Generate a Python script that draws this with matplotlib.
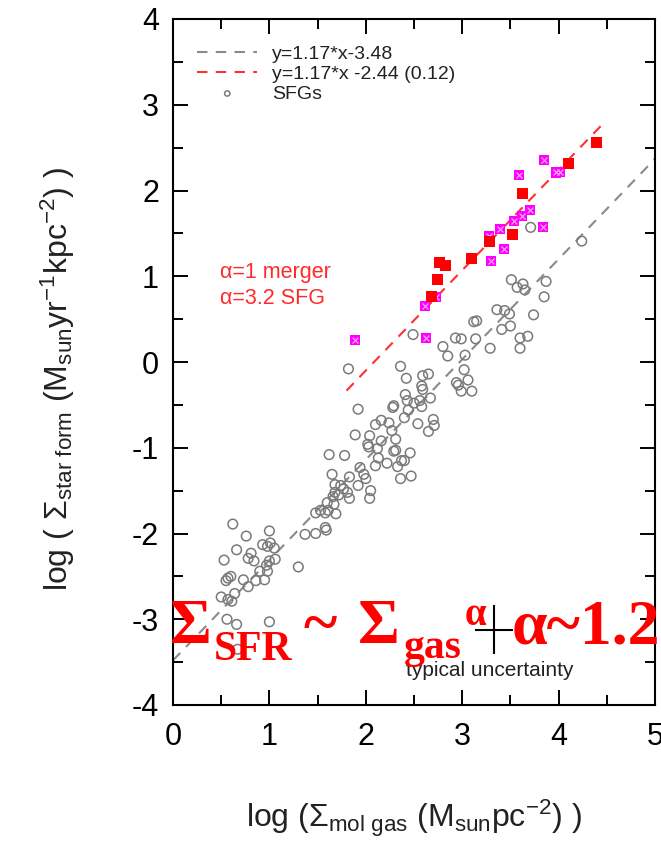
import matplotlib
matplotlib.use('Agg')
import matplotlib.pyplot as plt
import numpy as np
from matplotlib.ticker import MultipleLocator

plt.rcParams['font.family'] = ['Liberation Sans', 'DejaVu Sans']
plt.rcParams['mathtext.fontset'] = 'custom'
plt.rcParams['mathtext.rm'] = 'Liberation Sans'
plt.rcParams['mathtext.it'] = 'Liberation Sans:italic'
plt.rcParams['mathtext.bf'] = 'Liberation Sans:bold'
plt.rcParams['axes.unicode_minus'] = False

# ---------------- data ----------------
sfg_x = [3.71, 4.24, 3.51, 3.63, 3.57, 3.65, 3.87, 3.85, 3.36, 3.44, 3.49, 3.74, 3.12, 3.15, 3.41, 3.50,
         2.49, 2.93, 2.99, 3.14, 3.60, 3.68, 2.80, 3.29, 3.60, 2.85, 3.03, 1.82, 2.36, 3.02,
         2.42, 2.59, 2.65, 2.58, 2.59, 2.94, 2.96, 3.06, 2.99, 3.10, 2.41, 2.43, 2.56, 2.67, 2.29, 2.50,
         2.58, 1.92, 2.28, 2.44, 2.40, 2.70, 2.71, 2.54, 2.65, 2.16, 2.10, 2.24, 2.27, 2.31, 2.16, 2.04,
         1.89, 2.02, 2.03, 2.12, 2.29, 2.31, 2.46, 2.37, 2.40, 2.33, 2.22, 2.13, 2.10, 2.36, 2.47, 1.62,
         1.78, 1.65, 1.94, 1.98, 2.00, 1.83, 1.92, 1.68, 1.74, 1.77, 1.68, 1.72, 1.81, 1.83, 1.66, 2.05,
         2.04, 1.67, 1.60, 1.53, 1.48, 1.69, 1.58, 1.61, 1.58, 1.37, 1.48, 1.59, 1.30,
         0.62, 0.76, 1.00, 0.93, 1.01, 1.05, 0.98, 0.66, 0.81, 0.78, 0.84, 1.00, 0.97, 1.06, 0.90, 0.98,
         0.53, 0.57, 0.55, 0.60, 0.73, 0.78, 0.86, 0.95, 0.64, 0.50, 0.57, 0.61, 0.56, 0.66, 1.00, 0.67]
sfg_y = [1.57, 1.41, 0.96, 0.91, 0.87, 0.84, 0.94, 0.76, 0.61, 0.60, 0.56, 0.55, 0.47, 0.48, 0.38, 0.42,
         0.32, 0.28, 0.27, 0.27, 0.28, 0.30, 0.18, 0.16, 0.16, 0.07, 0.08, -0.08, -0.05, -0.09,
         -0.19, -0.16, -0.14, -0.28, -0.32, -0.24, -0.27, -0.21, -0.34, -0.34, -0.38, -0.45, -0.45, -0.42, -0.51, -0.48,
         -0.52, -0.55, -0.53, -0.56, -0.65, -0.67, -0.74, -0.72, -0.81, -0.68, -0.73, -0.71, -0.80, -0.90, -0.92, -0.86,
         -0.85, -0.96, -0.99, -1.01, -1.04, -1.03, -1.06, -1.15, -1.15, -1.22, -1.18, -1.12, -1.21, -1.36, -1.33, -1.08,
         -1.09, -1.31, -1.23, -1.31, -1.36, -1.34, -1.44, -1.43, -1.44, -1.48, -1.52, -1.55, -1.52, -1.59, -1.57, -1.50,
         -1.59, -1.66, -1.64, -1.73, -1.76, -1.77, -1.76, -1.73, -1.93, -2.01, -2.00, -1.96, -2.39,
         -1.89, -2.03, -1.97, -2.13, -2.11, -2.17, -2.15, -2.19, -2.23, -2.29, -2.32, -2.32, -2.37, -2.30, -2.44, -2.44,
         -2.31, -2.52, -2.55, -2.50, -2.54, -2.62, -2.55, -2.54, -2.70, -2.74, -2.77, -2.79, -3.00, -3.06, -3.03, -3.35]

merger_x = [4.39, 4.10, 3.63, 3.52, 3.28, 3.10, 2.76, 2.83, 2.74, 2.68]
merger_y = [2.56, 2.32, 1.96, 1.49, 1.41, 1.21, 1.16, 1.13, 0.96, 0.76]

smg_x = [3.85, 3.59, 3.97, 4.01, 3.70, 3.62, 3.54, 3.84, 3.39, 3.43, 3.30, 3.28, 2.73, 2.61, 2.62, 1.89]
smg_y = [2.35, 2.18, 2.21, 2.22, 1.77, 1.70, 1.65, 1.57, 1.55, 1.32, 1.18, 1.47, 0.76, 0.65, 0.28, 0.26]

slope = 1.17
icpt_sfg = -3.48
icpt_merger = -2.44
sfg_line_range = [0.0, 5.0]
merger_line_range = [1.8, 4.45]

err_x, err_y = 3.33, -3.12
err_dx, err_dy = 0.20, 0.29

legend_labels = ['y=1.17*x-3.48', 'y=1.17*x -2.44 (0.12)', 'SFGs']

# ---------------- figure ----------------
W, H = 661, 848
fig = plt.figure(figsize=(W / 100, H / 100), dpi=100)
ax = fig.add_axes([173 / W, 1 - 705 / H, (655 - 173) / W, (705 - 19) / H])

def P(x, y):
    return x / W, 1 - y / H

ax.scatter(sfg_x, sfg_y, s=48, facecolors='none', edgecolors='#7a7a7a', linewidths=1.1, zorder=2)
ax.scatter(smg_x, smg_y, s=52, marker='s', c='#ff00ff', edgecolors='none', zorder=3)
ax.scatter(smg_x, smg_y, s=18, marker='x', c='#ffb3ff', linewidths=0.8, zorder=3.1)
ax.scatter(merger_x, merger_y, s=62, marker='s', c='#ff0000', edgecolors='none', zorder=4)

xl = np.array(sfg_line_range)
l1, = ax.plot(xl, slope * xl + icpt_sfg, color='#8a8a8a', lw=1.5, dashes=(5, 4), zorder=1)
xr = np.array(merger_line_range)
l2, = ax.plot(xr, slope * xr + icpt_merger, color='#ff3030', lw=1.5, dashes=(5, 4), zorder=1)
h3 = ax.scatter([], [], s=48, facecolors='none', edgecolors='#7a7a7a', linewidths=1.1)

leg = ax.legend([l1, l2, h3], legend_labels, loc='upper left', bbox_to_anchor=(0.05, 0.962),
                frameon=False, fontsize=14, handlelength=3.1, handletextpad=0.75,
                labelspacing=0.12, borderpad=0, borderaxespad=0, markerscale=0.55)
for t in leg.get_texts():
    t.set_color('#222222')

ax.errorbar([err_x], [err_y], xerr=[err_dx], yerr=[err_dy], fmt='none', ecolor='black',
            elinewidth=1.5, capsize=0, zorder=5)
ax.text(3.29, -3.6, 'typical uncertainty', fontsize=15, color='#222222', ha='center', va='center')

ax.text(0.49, 0.98, 'α=1 merger', fontsize=15.5, color='#ff2a2a', ha='left', va='baseline')
ax.text(0.49, 0.68, 'α=3.2 SFG', fontsize=15.5, color='#ff2a2a', ha='left', va='baseline')

ax.set_xlim(0, 5)
ax.set_ylim(-4, 4)
ax.xaxis.set_major_locator(MultipleLocator(1))
ax.xaxis.set_minor_locator(MultipleLocator(0.5))
ax.yaxis.set_major_locator(MultipleLocator(1))
ax.yaxis.set_minor_locator(MultipleLocator(0.5))
ax.tick_params(which='both', direction='in', top=True, right=True, width=1.4, color='black')
ax.tick_params(which='major', length=11, labelsize=22, pad=10)
ax.tick_params(which='minor', length=7)
ax.tick_params(axis='x', which='major', pad=12)
for s in ax.spines.values():
    s.set_linewidth(1.5)

ax.set_xlabel(r'log ($\Sigma_{\rm mol\ gas}$ (M$_{\rm sun}$pc$^{-2}$) )', fontsize=23, color='#222222')
ax.xaxis.set_label_coords(0.5, -0.135)
ax.set_ylabel(r'log ( $\Sigma_{\rm star\ form}$ (M$_{\rm sun}$yr$^{-1}$kpc$^{-2}$) )', fontsize=23, color='#222222')
ax.yaxis.set_label_coords(-0.20, 0.475)

# big red formula
red = '#ff0000'
serif = 'Liberation Serif'
fig.text(*P(170, 643), 'Σ', fontsize=46, fontweight='bold', family=serif, color=red, va='baseline')
fig.text(*P(214, 660), 'SFR', fontsize=30, fontweight='bold', family=serif, color=red, va='baseline')
fig.text(*P(303, 643), '~', fontsize=46, fontweight='bold', family=serif, color=red, va='baseline')
fig.text(*P(358, 643), 'Σ', fontsize=46, fontweight='bold', family=serif, color=red, va='baseline')
fig.text(*P(404, 658), 'gas', fontsize=30, fontweight='bold', family=serif, color=red, va='baseline')
fig.text(*P(465, 625), 'α', fontsize=28, fontweight='bold', family=serif, color=red, va='baseline')
fig.text(*P(512, 643), 'α~1.2', fontsize=46, fontweight='bold', family=serif, color=red, va='baseline')

fig.savefig('out.png', dpi=100)
